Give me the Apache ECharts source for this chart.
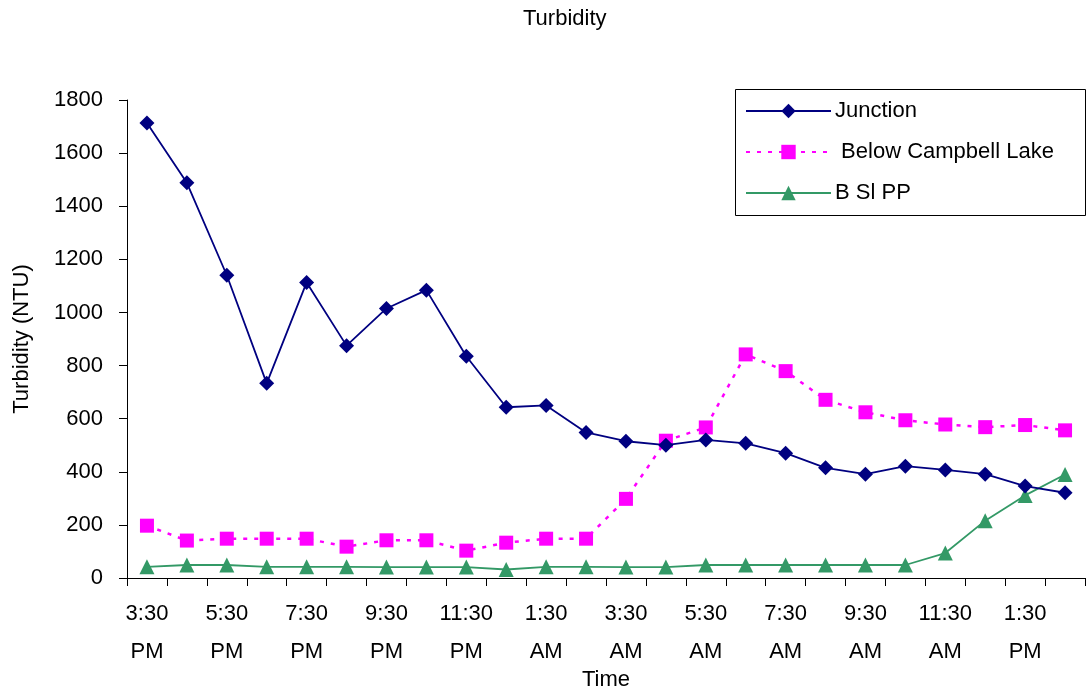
<!DOCTYPE html>
<html><head><meta charset="utf-8">
<script src="https://cdn.jsdelivr.net/npm/echarts@6/dist/echarts.min.js"></script>
<style>html,body{margin:0;padding:0;background:#fff}#c{width:1086px;height:693px}</style>
</head><body><div id="c"></div>
<script>
const categories = ["3:30\nPM","4:30\nPM","5:30\nPM","6:30\nPM","7:30\nPM","8:30\nPM","9:30\nPM","10:30\nPM","11:30\nPM","12:30\nAM","1:30\nAM","2:30\nAM","3:30\nAM","4:30\nAM","5:30\nAM","6:30\nAM","7:30\nAM","8:30\nAM","9:30\nAM","10:30\nAM","11:30\nAM","12:30\nPM","1:30\nPM","2:30\nPM"];
const junction = [1713,1488,1140,733,1113,875,1015,1084,835,643,650,548,515,500,520,507,470,415,391,421,407,391,346,321];
const belowCampbell = [197,141,148,148,148,118,142,142,103,133,148,148,298,517,567,842,779,671,624,594,578,568,576,556];
const bslpp = [42,49,49,42,42,42,41,41,41,32,42,42,41,41,49,49,49,49,49,49,94,216,311,390];
const yTicks = {min:0, max:1800, interval:200};

const chart = echarts.init(document.getElementById('c'));
const font = 'Liberation Sans, Arial, sans-serif';
chart.setOption({
  animation:false,
  textStyle:{fontFamily:font},
  title:{text:'Turbidity', left:518, top:3, textStyle:{fontSize:22, fontWeight:'normal', color:'#000', fontFamily:font}},
  grid:{left:127, right:1, top:100, bottom:115, containLabel:false, outerBoundsMode:'none'},
  graphic:[{type:'rect', left:735, top:89, shape:{width:350, height:126}, style:{fill:'#fff', stroke:'#000', lineWidth:1}, z:0}],
  legend:{
    orient:'vertical', left:745, top:100, itemWidth:85, itemHeight:18, itemGap:19,
    padding:0,
    textStyle:{fontSize:22, color:'#000', fontFamily:font, padding:[0,0,0,-1]},
    data:['Junction',' Below Campbell Lake','B Sl PP'], z:5
  },
  xAxis:{
    type:'category', data:categories, boundaryGap:true,
    name:'Time', nameLocation:'middle', nameGap:91, nameMoveOverlap:false,
    nameTextStyle:{fontSize:22, color:'#000', fontFamily:font},
    axisLine:{lineStyle:{color:'#000', width:1}},
    axisTick:{show:true, interval:0, alignWithLabel:false, length:8, lineStyle:{color:'#000'}},
    axisLabel:{interval:1, fontSize:22, color:'#000', lineHeight:38, margin:17, fontFamily:font},
    splitLine:{show:false}
  },
  yAxis:{
    type:'value', min:yTicks.min, max:yTicks.max, interval:yTicks.interval,
    name:'Turbidity (NTU)', nameLocation:'middle', nameGap:94, nameRotate:90, nameMoveOverlap:false,
    nameTextStyle:{fontSize:22, color:'#000', fontFamily:font},
    axisLine:{show:true, lineStyle:{color:'#000', width:1}},
    axisTick:{show:true, length:8, lineStyle:{color:'#000'}},
    axisLabel:{fontSize:22, color:'#000', margin:24, fontFamily:font, formatter:function(v){return String(v);}},
    splitLine:{show:false}
  },
  series:[
    {name:'Junction', type:'line', data:junction, symbol:'diamond', symbolSize:15,
     itemStyle:{color:'#000080'}, lineStyle:{color:'#000080', width:1.8}, z:4},
    {name:' Below Campbell Lake', type:'line', data:belowCampbell, symbol:'rect', symbolSize:14,
     itemStyle:{color:'#FF00FF'}, lineStyle:{color:'#FF00FF', width:2.5, type:[4,7]}, z:3},
    {name:'B Sl PP', type:'line', data:bslpp, symbol:'triangle', symbolSize:15,
     itemStyle:{color:'#339966'}, lineStyle:{color:'#339966', width:1.8}, z:2}
  ]
});
</script></body></html>
